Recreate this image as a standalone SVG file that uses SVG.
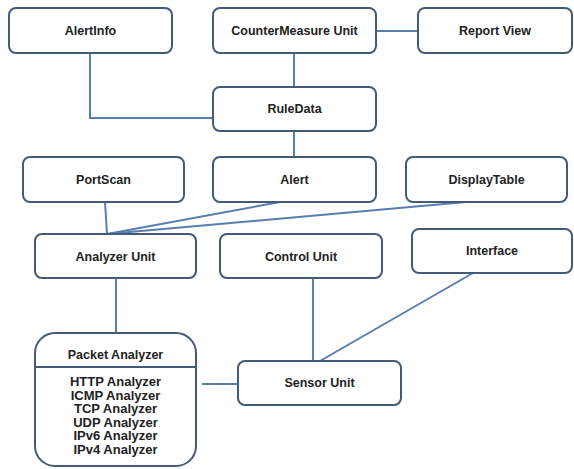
<svg xmlns="http://www.w3.org/2000/svg" width="574" height="469" viewBox="0 0 574 469">
<style>
.box{fill:#fff;stroke:#435a78;stroke-width:2}
.t{font-family:"Liberation Sans",Arial,sans-serif;font-weight:bold;font-size:12.5px;fill:#222;text-anchor:middle}
.l{font-family:"Liberation Sans",Arial,sans-serif;font-weight:bold;font-size:13px;fill:#222;text-anchor:middle}
.c{fill:none;stroke:#5a7db0;stroke-width:2}
</style>
<rect width="574" height="469" fill="#fff"/>
<g id="connectors">
<polyline class="c" points="90,53 90,118 213,118"/>
<line class="c" x1="294" y1="53" x2="294" y2="87"/>
<line class="c" x1="376" y1="31" x2="418" y2="31"/>
<line class="c" x1="294" y1="131" x2="294" y2="157"/>
<line class="c" x1="105" y1="202" x2="107" y2="234"/>
<line class="c" x1="280" y1="202" x2="107" y2="234"/>
<line class="c" x1="466" y1="202" x2="107" y2="234"/>
<line class="c" x1="116" y1="278" x2="116" y2="333"/>
<line class="c" x1="313" y1="278" x2="313" y2="361"/>
<line class="c" x1="473" y1="273" x2="320" y2="361"/>
<line class="c" x1="202" y1="384" x2="238" y2="384"/>
</g>
<g id="alertinfo"><rect class="box" x="9" y="8" width="163" height="45" rx="7"/><text class="t" x="90.5" y="35">AlertInfo</text></g>
<g id="countermeasure"><rect class="box" x="213" y="8" width="163" height="45" rx="7"/><text class="t" x="294.5" y="35">CounterMeasure Unit</text></g>
<g id="reportview"><rect class="box" x="418" y="8" width="154" height="45" rx="7"/><text class="t" x="495" y="35">Report View</text></g>
<g id="ruledata"><rect class="box" x="213" y="87" width="163" height="44" rx="7"/><text class="t" x="294.5" y="113">RuleData</text></g>
<g id="portscan"><rect class="box" x="23" y="157" width="161" height="45" rx="7"/><text class="t" x="103.5" y="184">PortScan</text></g>
<g id="alert"><rect class="box" x="213" y="157" width="163" height="45" rx="7"/><text class="t" x="294.5" y="184">Alert</text></g>
<g id="displaytable"><rect class="box" x="406" y="157" width="161" height="45" rx="7"/><text class="t" x="486.5" y="184">DisplayTable</text></g>
<g id="analyzerunit"><rect class="box" x="35" y="234" width="161" height="44" rx="7"/><text class="t" x="115.5" y="261">Analyzer Unit</text></g>
<g id="controlunit"><rect class="box" x="220" y="234" width="162" height="44" rx="7"/><text class="t" x="301" y="261">Control Unit</text></g>
<g id="interface"><rect class="box" x="412" y="229" width="160" height="44" rx="7"/><text class="t" x="492" y="255">Interface</text></g>
<g id="packetanalyzer"><rect class="box" x="35" y="333" width="161" height="133" rx="20"/>
<line x1="35" y1="367" x2="196" y2="367" stroke="#435a78" stroke-width="2"/>
<text class="t" x="115.5" y="359">Packet Analyzer</text>
<text class="l" x="115.5" y="386">HTTP Analyzer</text>
<text class="l" x="115.5" y="399.5">ICMP Analyzer</text>
<text class="l" x="115.5" y="413">TCP Analyzer</text>
<text class="l" x="115.5" y="426.5">UDP Analyzer</text>
<text class="l" x="115.5" y="440">IPv6 Analyzer</text>
<text class="l" x="115.5" y="453.5">IPv4 Analyzer</text>
</g>
<g id="sensorunit"><rect class="box" x="238" y="361" width="163" height="44" rx="7"/><text class="t" x="319.5" y="387">Sensor Unit</text></g>
</svg>
